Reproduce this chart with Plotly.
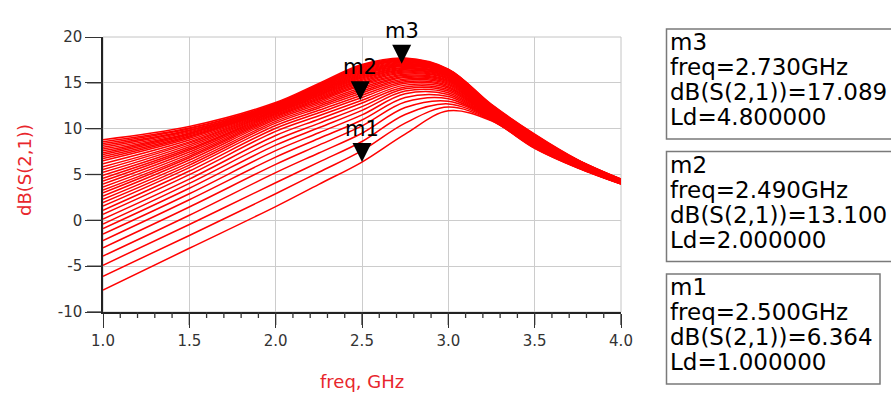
import plotly.graph_objects as go

# ---------------- data ----------------
ld_values = [1.0, 1.1, 1.2, 1.3, 1.4, 1.5, 1.6, 1.7, 1.8, 1.9,
             2.0, 2.1, 2.2, 2.3, 2.4, 2.5, 2.6, 2.7, 2.8, 2.9,
             3.0, 3.1, 3.2, 3.3, 3.4, 3.5, 3.6, 3.7, 3.8, 3.9,
             4.0, 4.1, 4.2, 4.3, 4.4, 4.5, 4.6, 4.7, 4.8]

freq_ghz = [1.0, 1.5, 2.0, 2.25, 2.5, 2.75, 3.0, 3.25, 3.5, 3.75, 4.0]

# dB(S(2,1)) of every Ld curve, one list per frequency point
db_at_100 = [-7.6, -6.1, -4.9, -3.9, -3.0, -2.2, -1.5, -0.9, -0.4, 0.15, 0.65, 1.1, 1.55, 1.95, 2.3, 2.65, 3.0, 3.3, 3.63, 3.96,
             4.28, 4.6, 4.92, 5.23, 5.54, 5.85, 6.18, 6.5, 6.75, 6.97, 7.18, 7.38, 7.58, 7.78, 7.98, 8.18, 8.38, 8.58, 8.8]
db_at_150 = [-3.05, -1.65, -0.45, 0.55, 1.45, 2.25, 2.9, 3.5, 4.03, 4.5, 4.98, 5.38, 5.75, 6.03, 6.3, 6.58, 6.83, 7.0, 7.22, 7.45,
             7.67, 7.83, 8.03, 8.23, 8.42, 8.56, 8.76, 8.95, 9.1, 9.2, 9.33, 9.45, 9.53, 9.65, 9.77, 9.85, 9.98, 10.07, 10.23]
db_at_200 = [1.5, 2.9, 4.1, 5.2, 6.1, 6.9, 7.6, 8.2, 8.75, 9.25, 9.7, 10.05, 10.35, 10.6, 10.8, 11.0, 11.15, 11.3, 11.42, 11.54,
             11.65, 11.75, 11.84, 11.92, 12.0, 12.07, 12.14, 12.2, 12.26, 12.32, 12.37, 12.42, 12.47, 12.52, 12.56, 12.62, 12.68, 12.75, 12.85]
db_at_225 = [3.93, 5.25, 6.35, 7.35, 8.2, 8.93, 9.55, 10.1, 10.58, 11.03, 11.4, 11.73, 12.0, 12.25, 12.45, 12.65, 12.83, 13.0, 13.14, 13.27,
             13.4, 13.52, 13.62, 13.72, 13.82, 13.91, 14.0, 14.08, 14.16, 14.24, 14.31, 14.39, 14.46, 14.54, 14.6, 14.68, 14.75, 14.83, 14.93]
db_at_250 = [6.36, 7.6, 8.6, 9.5, 10.3, 10.95, 11.5, 12.0, 12.4, 12.8, 13.1, 13.4, 13.65, 13.9, 14.1, 14.3, 14.5, 14.7, 14.85, 15.0,
             15.15, 15.28, 15.4, 15.52, 15.63, 15.74, 15.85, 15.95, 16.05, 16.15, 16.25, 16.35, 16.45, 16.55, 16.64, 16.73, 16.82, 16.91, 17.0]
db_at_275 = [9.4, 10.6, 11.55, 12.3, 12.9, 13.4, 13.8, 14.1, 14.35, 14.55, 14.75, 14.95, 15.12, 15.28, 15.43, 15.57, 15.7, 15.83, 15.95, 16.07,
             16.18, 16.29, 16.39, 16.49, 16.59, 16.68, 16.77, 16.86, 16.95, 17.03, 17.11, 17.19, 17.27, 17.34, 17.41, 17.48, 17.55, 17.62, 17.7]
db_at_300 = [11.95, 12.35, 12.7, 13.0, 13.27, 13.5, 13.72, 13.92, 14.1, 14.27, 14.43, 14.58, 14.72, 14.85, 14.97, 15.08, 15.19, 15.29, 15.39, 15.48,
             15.57, 15.65, 15.73, 15.8, 15.87, 15.94, 16.0, 16.06, 16.11, 16.16, 16.21, 16.26, 16.3, 16.34, 16.38, 16.41, 16.44, 16.47, 16.5]
db_at_325 = [10.85, 10.9, 10.94, 10.99, 11.04, 11.09, 11.13, 11.18, 11.23, 11.28, 11.32, 11.37, 11.42, 11.47, 11.51, 11.56, 11.61, 11.66, 11.7, 11.75,
             11.8, 11.84, 11.89, 11.94, 11.99, 12.03, 12.08, 12.13, 12.18, 12.22, 12.27, 12.32, 12.37, 12.41, 12.46, 12.51, 12.56, 12.6, 12.65]
db_at_350 = [7.85, 7.89, 7.93, 7.97, 8.01, 8.05, 8.09, 8.14, 8.18, 8.22, 8.26, 8.3, 8.34, 8.38, 8.42, 8.46, 8.5, 8.54, 8.58, 8.63,
             8.67, 8.71, 8.75, 8.79, 8.83, 8.87, 8.91, 8.95, 8.99, 9.03, 9.07, 9.11, 9.16, 9.2, 9.24, 9.28, 9.32, 9.36, 9.4]
db_at_375 = [5.7, 5.72, 5.75, 5.77, 5.79, 5.82, 5.84, 5.87, 5.89, 5.91, 5.94, 5.96, 5.98, 6.01, 6.03, 6.06, 6.08, 6.1, 6.13, 6.15,
             6.17, 6.2, 6.22, 6.25, 6.27, 6.29, 6.32, 6.34, 6.36, 6.39, 6.41, 6.43, 6.46, 6.48, 6.51, 6.53, 6.55, 6.58, 6.6]
db_at_400 = [3.95, 3.96, 3.98, 3.99, 4.01, 4.02, 4.04, 4.05, 4.07, 4.08, 4.09, 4.11, 4.12, 4.14, 4.15, 4.17, 4.18, 4.2, 4.21, 4.22,
             4.24, 4.25, 4.27, 4.28, 4.3, 4.31, 4.33, 4.34, 4.36, 4.37, 4.38, 4.4, 4.41, 4.43, 4.44, 4.46, 4.47, 4.49, 4.5]

marker_names = ["m1", "m2", "m3"]
marker_freq = [2.500, 2.490, 2.730]
marker_db = [6.364, 13.100, 17.089]
marker_ld = [1.0, 2.0, 4.8]

x_tick_vals = [1.0, 1.5, 2.0, 2.5, 3.0, 3.5, 4.0]
x_tick_text = ["1.0", "1.5", "2.0", "2.5", "3.0", "3.5", "4.0"]
x_minor_tick_vals = [1.1, 1.2, 1.3, 1.4, 1.6, 1.7, 1.8, 1.9, 2.1, 2.2, 2.3, 2.4,
                     2.6, 2.7, 2.8, 2.9, 3.1, 3.2, 3.3, 3.4, 3.6, 3.7, 3.8, 3.9]
y_tick_vals = [-10, -5, 0, 5, 10, 15, 20]
y_tick_text = ["-10", "-5", "0", "5", "10", "15", "20"]

x_title = "freq, GHz"
y_title = "dB(S(2,1))"

# ---------------- layout constants (pixels) ----------------
W, H = 891, 396
L, R, T, B = 103, 621, 37, 312          # plot area
PW, PH = R - L, B - T
RED = "#ff0000"
TITLE_RED = "#e8262c"
FONT = "DejaVu Sans"
TICK_COLOR = "#333333"
X_MAJOR_LEN, X_MINOR_LEN, Y_TICK_LEN = 13, 6, 16

def px_x(px):
    return (px - L) / PW

def px_y(py):
    return (B - py) / PH

columns = [db_at_100, db_at_150, db_at_200, db_at_225, db_at_250, db_at_275,
           db_at_300, db_at_325, db_at_350, db_at_375, db_at_400]
assert all(len(c) == len(ld_values) for c in columns)

fig = go.Figure()
for i, ld in enumerate(ld_values):
    fig.add_trace(go.Scatter(
        x=freq_ghz, y=[col[i] for col in columns], mode="lines",
        line=dict(color=RED, width=1.5, shape="spline", smoothing=1.0),
        hoverinfo="skip", showlegend=False, name=f"Ld={ld}"))

fig.add_trace(go.Scatter(
    x=marker_freq, y=marker_db, mode="markers",
    marker=dict(symbol="arrow-down", size=19, color="black", line=dict(width=0)),
    cliponaxis=False, showlegend=False, hoverinfo="skip"))

annotations = []
for name, f, v in zip(marker_names, marker_freq, marker_db):
    annotations.append(dict(x=f, y=v, xref="x", yref="y", text=name, showarrow=False,
                            xanchor="center", yanchor="middle", yshift=33,
                            font=dict(family=FONT, size=21, color="black")))

# axis titles
annotations.append(dict(x=0.5, y=px_y(382), xref="paper", yref="paper", text=x_title,
                        showarrow=False, xanchor="center", yanchor="middle",
                        font=dict(family=FONT, size=18, color=TITLE_RED)))
annotations.append(dict(x=px_x(24), y=px_y(170), xref="paper", yref="paper", text=y_title,
                        showarrow=False, xanchor="center", yanchor="middle", textangle=-90,
                        font=dict(family=FONT, size=18, color=TITLE_RED)))

shapes = [dict(type="rect", xref="paper", yref="paper", x0=0, y0=0, x1=1, y1=1,
               line=dict(color="#c4c4c4", width=1), layer="below")]

# tick marks on the outside of the axes (positions taken from the axis tick lists)
for v in x_tick_vals:
    shapes.append(dict(type="line", xref="x", yref="paper", x0=v, x1=v, y0=0, y1=-X_MAJOR_LEN / PH,
                       line=dict(color=TICK_COLOR, width=1.3), layer="above"))
for v in x_minor_tick_vals:
    shapes.append(dict(type="line", xref="x", yref="paper", x0=v, x1=v, y0=0, y1=-X_MINOR_LEN / PH,
                       line=dict(color=TICK_COLOR, width=1.3), layer="above"))
for v in y_tick_vals:
    shapes.append(dict(type="line", xref="paper", yref="y", x0=0, x1=-Y_TICK_LEN / PW, y0=v, y1=v,
                       line=dict(color=TICK_COLOR, width=1.3), layer="above"))

# marker readout boxes, top to bottom: m3, m2, m1
box_tops = {"m3": 29, "m2": 151.5, "m1": 274}
box_right = {"m3": 905, "m2": 905, "m1": 880}
for name, f, v, ld in zip(marker_names, marker_freq, marker_db, marker_ld):
    top = box_tops[name]
    shapes.append(dict(type="rect", xref="paper", yref="paper",
                       x0=px_x(666.5), x1=px_x(box_right[name]),
                       y0=px_y(top + 110), y1=px_y(top),
                       line=dict(color="#7a7a7a", width=1.5), layer="above"))
    lines = [name, f"freq={f:.3f}GHz", f"dB(S(2,1))={v:.3f}", f"Ld={ld:.6f}"]
    for k, txt in enumerate(lines):
        annotations.append(dict(x=px_x(668), y=px_y(top + 13 + 25 * k), xref="paper", yref="paper",
                                text=txt, showarrow=False, xanchor="left", yanchor="middle",
                                font=dict(family=FONT, size=23, color="black")))

fig.update_layout(
    width=W, height=H,
    margin=dict(l=L, r=W - R, t=T, b=H - B),
    paper_bgcolor="white", plot_bgcolor="white",
    xaxis=dict(range=[1, 4], tickmode="array", tickvals=x_tick_vals, ticktext=x_tick_text,
               ticks="outside", ticklen=X_MAJOR_LEN + 1, tickwidth=1.3, tickcolor=TICK_COLOR,
               tickfont=dict(family=FONT, size=15, color="#333333"),
               showgrid=True, gridcolor="#cccccc", gridwidth=1, zeroline=False,
               showline=True, linecolor="#222222", linewidth=1.5),
    yaxis=dict(range=[-10, 20], tickmode="array", tickvals=y_tick_vals, ticktext=y_tick_text,
               ticks="outside", ticklen=Y_TICK_LEN, tickwidth=1.3, tickcolor=TICK_COLOR,
               tickfont=dict(family=FONT, size=15, color="#333333"),
               showgrid=True, gridcolor="#cccccc", gridwidth=1, zeroline=False,
               showline=True, linecolor="#222222", linewidth=1.5),
    annotations=annotations, shapes=shapes, showlegend=False,
)

fig.write_html("out.html", config={"displayModeBar": False},
               post_script="document.body.style.margin='0';")
